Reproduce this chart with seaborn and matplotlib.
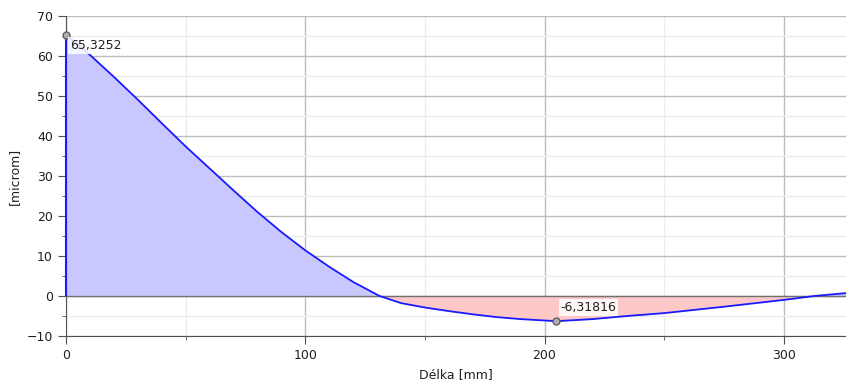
import seaborn as sns
import pandas as pd
import matplotlib.pyplot as plt
from matplotlib.ticker import MultipleLocator

# values
delka = [0, 10, 20, 30, 40, 50, 60, 70, 80, 90, 100, 110, 120, 131,
         140, 150, 160, 170, 180, 190, 205, 220, 235, 250, 275, 300, 313, 326]
prohyb = [65.33, 60.3, 54.8, 49.1, 43.2, 37.4, 31.9, 26.4, 21.0, 16.0, 11.4, 7.3, 3.5, 0.0,
          -1.8, -2.9, -3.8, -4.6, -5.3, -5.8, -6.32, -5.8, -5.0, -4.3, -2.7, -1.0, 0.0, 0.7]
max_pt = (0, 65.3252)
min_pt = (205, -6.31816)

df = pd.DataFrame(dict(x=delka, y=prohyb))

sns.set_style('white')
plt.rcParams['font.family'] = ['DejaVu Sans']

fig = plt.figure(figsize=(8.46, 3.83), dpi=100)
ax = fig.add_axes([0.078, 0.123, 0.922, 0.835])

ax.fill_between(df.x, df.y, 0, where=df.y >= 0, interpolate=True, color='#c8c8ff', lw=0)
ax.fill_between(df.x, df.y, 0, where=df.y <= 0, interpolate=True, color='#ffc8c8', lw=0)
sns.lineplot(data=df, x='x', y='y', ax=ax, color='#1a1aff', lw=1.3, zorder=3)
# closing edge of the area at the start of the beam
ax.vlines(df.x.iloc[0], 0, df.y.iloc[0], color='#1a1aff', lw=1.5, zorder=3, clip_on=False)

ax.axhline(0, color='#707070', lw=1, zorder=2)

ax.plot(*max_pt, 'o', ms=5, mfc='#b0b0b0', mec='#606060', mew=1, zorder=5, clip_on=False)
ax.annotate('65,3252', max_pt, xytext=(3, -3), textcoords='offset points', fontsize=9,
            va='top', color='#202020', zorder=6,
            bbox=dict(boxstyle='square,pad=0.15', fc='white', ec='none', alpha=0.85))
ax.plot(*min_pt, 'o', ms=5, mfc='#b0b0b0', mec='#606060', mew=1, zorder=5, clip_on=False)
ax.annotate('-6,31816', min_pt, xytext=(3, 5), textcoords='offset points', fontsize=9,
            va='bottom', color='#202020', zorder=6,
            bbox=dict(boxstyle='square,pad=0.15', fc='white', ec='none', alpha=0.85))

ax.set_xlim(0, 326)
ax.set_ylim(-10, 70)
ax.xaxis.set_major_locator(MultipleLocator(100))
ax.xaxis.set_minor_locator(MultipleLocator(50))
ax.yaxis.set_major_locator(MultipleLocator(10))
ax.yaxis.set_minor_locator(MultipleLocator(5))
ax.grid(which='major', color='#bdbdbd', lw=1)
ax.grid(which='minor', color='#ececec', lw=1)
ax.set_axisbelow(True)

for s in ['top', 'right']:
    ax.spines[s].set_visible(False)
for s in ['left', 'bottom']:
    ax.spines[s].set_color('#505050')
ax.tick_params(which='major', length=6, color='#505050', labelsize=9, labelcolor='#202020',
               left=True, bottom=True)
ax.tick_params(which='minor', length=3, color='#505050', left=True, bottom=True)

ax.set_xlabel('Délka [mm]', fontsize=9, color='#202020')
ax.set_ylabel('[microm]', fontsize=9, color='#202020')

fig.savefig('out.png', dpi=100)
